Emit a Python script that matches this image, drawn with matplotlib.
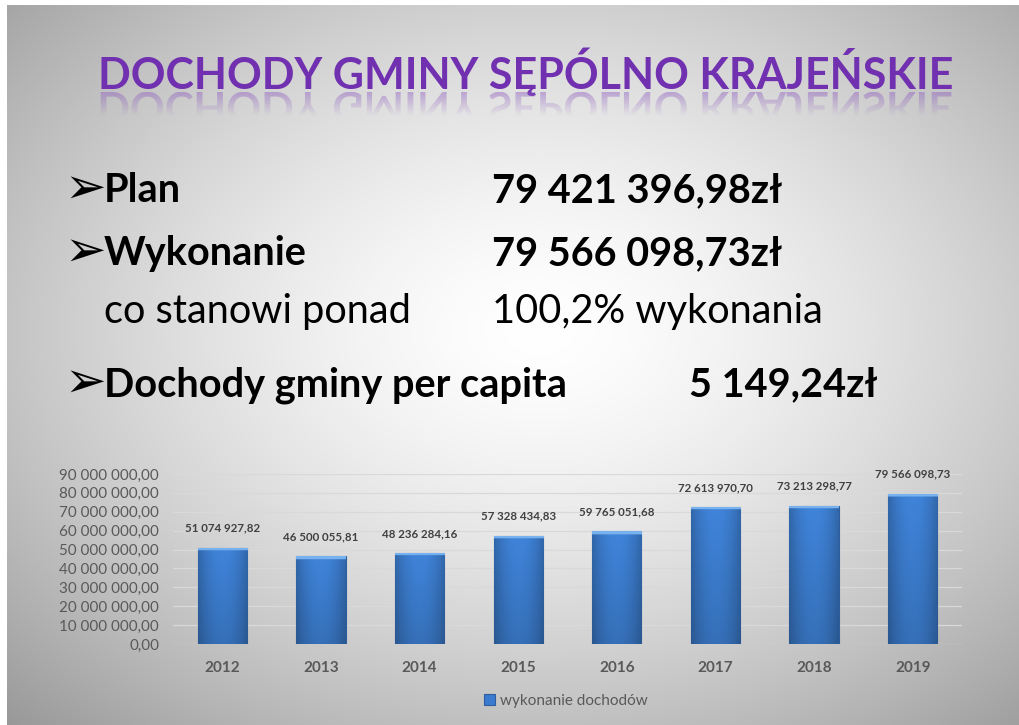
import numpy as np
import matplotlib
matplotlib.use("Agg")
import matplotlib.pyplot as plt
from matplotlib.textpath import TextPath
from matplotlib.patches import PathPatch
from matplotlib.font_manager import FontProperties
from matplotlib.transforms import Affine2D

# data
years = ['2012', '2013', '2014', '2015', '2016', '2017', '2018', '2019']
income = [51074927.82, 46500055.81, 48236284.16, 57328434.83,
          59765051.68, 72613970.70, 73213298.77, 79566098.73]
y_ticks = np.arange(0, 90000001, 10000000)
legend_label = 'wykonanie dochodów'

title = 'DOCHODY GMINY SĘPÓLNO KRAJEŃSKIE'
rows = [('Plan', '79 421 396,98zł', True),
        ('Wykonanie', '79 566 098,73zł', True),
        ('co stanowi ponad', '100,2% wykonania', False),
        ('Dochody gminy per capita', '5 149,24zł', True)]

W, H = 1019, 725
FONT = ['Lato', 'DejaVu Sans']
TFONT = ['Liberation Sans Narrow', 'Lato']
GRAY = '#595959'


def pln(v):
    return f'{v:,.2f}'.replace(',', ' ').replace('.', ',')


fig = plt.figure(figsize=(W / 100, H / 100), dpi=100, facecolor='white')
renderer = fig.canvas.get_renderer()


def fit(t, width):
    bb = t.get_window_extent(renderer)
    t.set_fontsize(t.get_fontsize() * width / bb.width)
    return t.get_fontsize()


# slide background (radial gradient)
bg = fig.add_axes([7 / W, 0, 1 - 7 / W, 720 / H], zorder=0)
gx, gy = np.meshgrid(np.linspace(7, W, 400), np.linspace(5, H, 300))
d = np.hypot((gx - 540) / W, (gy - 330) / H)
g = np.clip(255 - 156 * d ** 1.5, 150, 255) / 255
bg.imshow(np.dstack([g, g, g]), aspect='auto', extent=(0, 1, 0, 1))
bg.set_axis_off()

# text layer in pixel coords
tx = fig.add_axes([0, 0, 1, 1], zorder=3)
tx.set_xlim(0, W)
tx.set_ylim(H, 0)
tx.set_axis_off()
tx.patch.set_alpha(0)

t = tx.text(526, 89, title, ha='center', va='baseline', color='#7030b0',
            fontweight='bold', family=TFONT, fontsize=50)
tsize = fit(t, 857)

# reflection of the title
fp = FontProperties(family=TFONT, weight='bold')
tp = TextPath((0, 0), title, size=tsize * 100 / 72, prop=fp)
ext = tp.get_extents()
tp = tp.transformed(Affine2D().translate(526 - (ext.x0 + ext.x1) / 2, 92))
refl = PathPatch(tp, facecolor='none', edgecolor='none')
tx.add_patch(refl)
fade = np.zeros((100, 2, 4))
fade[..., 0], fade[..., 1], fade[..., 2] = 0.55, 0.35, 0.75
fade[..., 3] = np.clip(np.linspace(0.45, -0.3, 100), 0, 1)[:, None]
im = tx.imshow(fade, extent=(80, 980, 132, 92), aspect='auto', zorder=3)
im.set_clip_path(refl)
tx.set_xlim(0, W)
tx.set_ylim(H, 0)

# bullet rows
baselines = [202, 265, 323, 396]
big = None
for (label, value, bold), yb in zip(rows, baselines):
    w = 'bold' if bold else 'normal'
    v = tx.text(492, yb, value, ha='left', va='baseline', color='black',
                fontweight=w, family=FONT, fontsize=28)
    if big is None:
        big = fit(v, 290)
    v.set_fontsize(big)
    if label.startswith('Dochody'):
        v.set_ha('right')
        v.set_x(878)
    if bold:
        tx.text(64, yb + 1, '➢', ha='left', va='baseline', color='black',
                family=['DejaVu Sans'], fontsize=big * 1.25)
    tx.text(104, yb, label, ha='left', va='baseline', color='black',
            fontweight=w, family=FONT, fontsize=big)

# chart
ax = fig.add_axes([173 / W, (H - 644) / H, (962 - 173) / W, 170 / H], zorder=2)
ax.patch.set_alpha(0)
x = np.arange(len(years))
bars = ax.bar(x, income, width=0.5, color='#3a7bd0', edgecolor='#2c5e9e',
              linewidth=0.8, zorder=2)
ax.set_xlim(-0.5, len(years) - 0.5)
ax.set_ylim(0, 90000000)

# bevel-like shading on the bars
for b in bars:
    h = b.get_height()
    n = 300
    cols = np.linspace(0, 1, 60)
    side = 1 - 0.22 * np.abs(cols - 0.5) ** 2 * 4
    rows_ = np.linspace(1, 0, n)
    base = np.array([0.25, 0.52, 0.86])
    img = np.ones((n, 60, 3)) * base
    img *= (0.84 + 0.16 * rows_)[:, None, None]
    img *= side[None, :, None]
    cap = rows_ > 1 - 1.6e6 / h
    img[cap] = np.array([0.47, 0.70, 0.94])
    im = ax.imshow(np.clip(img, 0, 1), extent=(b.get_x(), b.get_x() + b.get_width(), 0, h),
                   aspect='auto', zorder=2.5)
    im.set_clip_path(b)
ax.set_xlim(-0.5, len(years) - 0.5)
ax.set_ylim(0, 90000000)

for xi, v in zip(x, income):
    ax.annotate(pln(v), (xi, v), xytext=(0, 10), textcoords='offset points',
                ha='center', va='bottom', fontsize=8.3, fontweight='bold',
                color='#404040', family=FONT)

ax.set_yticks(y_ticks)
ax.set_yticklabels([pln(v) for v in y_ticks], family=FONT, fontsize=10.9, color=GRAY)
ax.set_xticks(x)
ax.set_xticklabels(years, family=FONT, fontsize=11, fontweight='bold', color=GRAY)
ax.tick_params(length=0)
ax.tick_params(axis='y', pad=10)
ax.tick_params(axis='x', pad=12)
ax.grid(axis='y', color='#d9d9d9', linewidth=0.9, zorder=0)
for s in ax.spines.values():
    s.set_visible(False)

leg = ax.legend([bars[0]], [legend_label], loc='center',
                bbox_to_anchor=(566 / W, (H - 701) / H), bbox_transform=fig.transFigure,
                frameon=False, handlelength=0.7, handleheight=0.7, handletextpad=0.3,
                prop={'family': FONT, 'size': 11})
for tt in leg.get_texts():
    tt.set_color(GRAY)

fig.savefig('out.png', dpi=100, facecolor='white')
